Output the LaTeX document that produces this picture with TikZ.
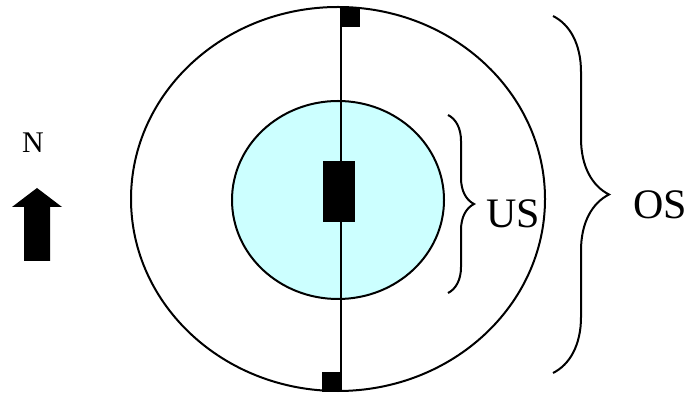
\documentclass[tikz,border=0pt]{standalone}
\usepackage{fontspec}
\setmainfont{Liberation Serif}
\usetikzlibrary{decorations.pathreplacing}
\definecolor{skyfill}{RGB}{204,255,255}
\begin{document}
\begin{tikzpicture}[x=0.5pt, y=-0.5pt, line width=1pt]
  \useasboundingbox (0,0) rectangle (689,394);
  % zones
  \draw (338,199) ellipse [x radius=207, y radius=192];
  \draw[fill=skyfill] (338,200) ellipse [x radius=106, y radius=99];
  % axis with markers
  \coordinate (axtop) at (341,7);
  \coordinate (axbot) at (341,392);
  \draw (axtop) -- (axbot);
  \fill (340,7) rectangle (360,27);
  \fill (322,372) rectangle (341,392);
  \fill (323,161) rectangle (355,222);
  % braces
  \draw[decorate, decoration={brace, amplitude=13pt}] (448,115) -- (448,293);
  \draw[decorate, decoration={brace, amplitude=28pt}] (553,16) -- (553,373);
  \node[font=\fontsize{21}{25}\selectfont] (us) at (513,214) {US};
  \node[font=\fontsize{21}{25}\selectfont] (os) at (660,205) {OS};
  % north arrow
  \node[font=\fontsize{15}{18}\selectfont] (north) at (33,143) {N};
  \fill (37,188) -- (62,207) -- (50,207) -- (50,261) -- (24,261) -- (24,207) -- (12,207) -- cycle;
\end{tikzpicture}
\end{document}
